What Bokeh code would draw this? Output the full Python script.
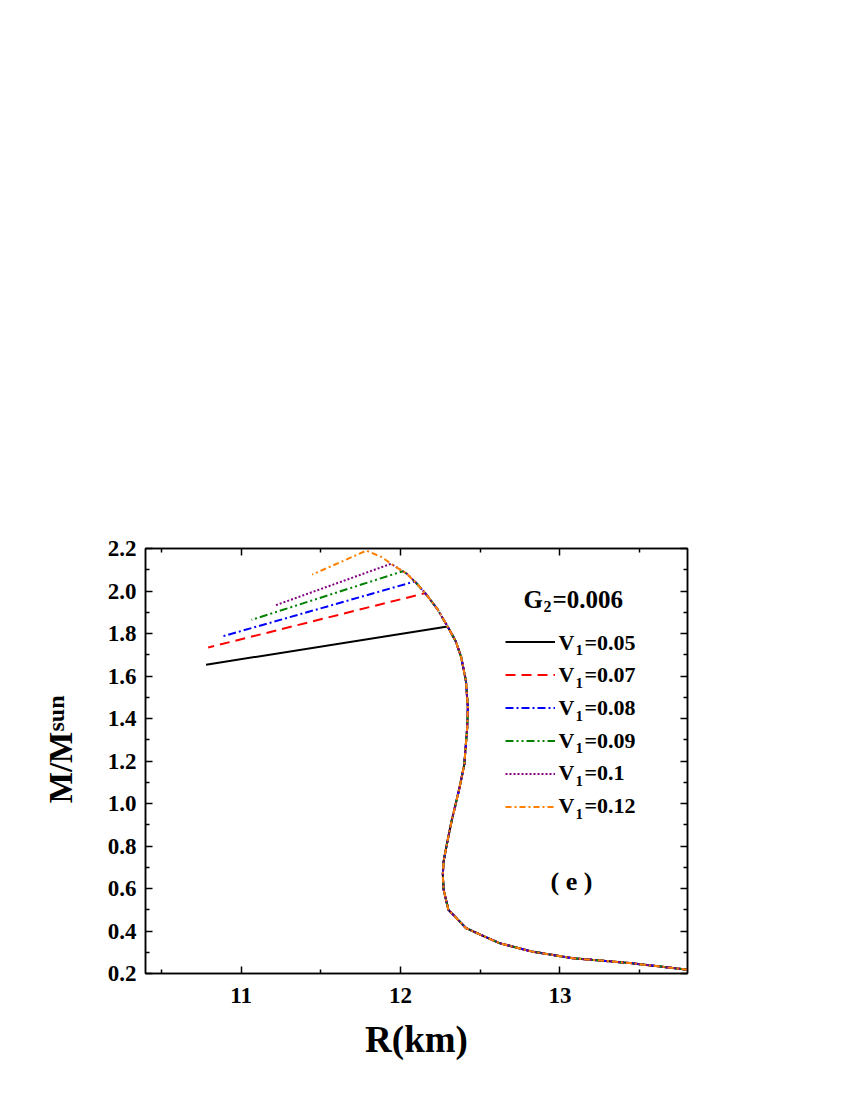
from bokeh.plotting import figure
from bokeh.models import (Range1d, LinearAxis, FixedTicker, PrintfTickFormatter, Label,
                          Legend, LegendItem, CustomJSTickFormatter)
from bokeh.core.properties import value
from bokeh.embed import file_html
from bokeh.resources import INLINE
import math

# ---------------- data ----------------
# stable branch shared by all curves (R in km, M in M_sun), low mass -> maximum
branch_R = [13.80, 13.44, 13.08, 12.82, 12.62, 12.50, 12.41, 12.34, 12.30, 12.27,
            12.265, 12.27, 12.29, 12.32, 12.365, 12.40, 12.418, 12.422, 12.41, 12.38,
            12.345, 12.295, 12.23, 12.167, 12.104, 12.04, 11.957, 11.88, 11.786]
branch_M = [0.218, 0.249, 0.272, 0.304, 0.343, 0.383, 0.414, 0.469, 0.500, 0.595,
            0.666, 0.728, 0.807, 0.917, 1.058, 1.184, 1.357, 1.451, 1.577, 1.690,
            1.765, 1.833, 1.916, 1.978, 2.033, 2.081, 2.120, 2.160, 2.190]

labels = ["0.05", "0.07", "0.08", "0.09", "0.1", "0.12"]
# point where each curve leaves the shared branch
top_R = [12.295, 12.155, 12.09, 12.014, 11.94, 11.786]
top_M = [1.833, 1.990, 2.045, 2.093, 2.128, 2.190]
# end point of each curve's upper (unstable) part
end_R = [10.78, 10.793, 10.876, 11.065, 11.209, 11.445]
end_M = [1.653, 1.734, 1.785, 1.864, 1.931, 2.077]

colors = ["#000000", "#FF0000", "#0000FF", "#008000", "#800080", "#FF8000"]
dashes = ["solid", "10 6", "8 3 2 3", "8 3 2 3 2 3", "2 2", "6 3 2 3"]

x_major = [11, 12, 13]
x_minor = [10.5, 11.5, 12.5, 13.5]
y_major = [0.2, 0.4, 0.6, 0.8, 1.0, 1.2, 1.4, 1.6, 1.8, 2.0, 2.2]
y_minor = [0.3, 0.5, 0.7, 0.9, 1.1, 1.3, 1.5, 1.7, 1.9, 2.1]

FONT = "Liberation Serif"

# ---------------- figure ----------------
W, H = 840, 1090
FL, FR, FT, FB = 145, 687, 548, 973   # frame edges on the page
p = figure(width=W, height=H, output_backend="svg", toolbar_location=None,
           x_range=Range1d(10.4, 13.8), y_range=Range1d(0.2, 2.2),
           min_border_left=FL, min_border_right=W - FR, min_border_top=FT,
           min_border_bottom=H - FB, x_axis_location=None, y_axis_location=None)
p.xgrid.visible = False
p.ygrid.visible = False
p.outline_line_color = "black"
p.outline_line_width = 1.5
p.background_fill_color = "white"
p.border_fill_color = "white"

blank = CustomJSTickFormatter(code="return ''")


def style_axis(ax, show_labels):
    ax.axis_line_width = 1.5
    ax.major_tick_line_width = 1.5
    ax.minor_tick_line_width = 1.5
    ax.major_tick_in = 7
    ax.major_tick_out = 0
    ax.minor_tick_in = 4
    ax.minor_tick_out = 0
    ax.major_label_text_font = FONT
    ax.major_label_text_font_style = "bold"
    ax.major_label_text_font_size = "23px"
    ax.major_label_text_color = "black"
    if not show_labels:
        ax.formatter = blank


xt = FixedTicker(ticks=x_major, minor_ticks=x_minor)
yt = FixedTicker(ticks=y_major, minor_ticks=y_minor)

xb = LinearAxis(ticker=xt, axis_label="R(km)")
style_axis(xb, True)
xb.major_label_standoff = 14
xb.axis_label_text_font = FONT
xb.axis_label_text_font_style = "bold"
xb.axis_label_text_font_size = "37px"
xb.axis_label_text_color = "black"
xb.axis_label_standoff = 13
p.add_layout(xb, "below")

yl = LinearAxis(ticker=yt, formatter=PrintfTickFormatter(format="%.1f"))
style_axis(yl, True)
yl.major_label_standoff = 9
p.add_layout(yl, "left")

xa = LinearAxis(ticker=xt)
style_axis(xa, False)
p.add_layout(xa, "above")
yr = LinearAxis(ticker=yt)
style_axis(yr, False)
p.add_layout(yr, "right")

# ---------------- curves ----------------
renderers = []
for i in range(len(labels)):
    xs = [r for r, m in zip(branch_R, branch_M) if m < top_M[i]] + [top_R[i], end_R[i]]
    ys = [m for m in branch_M if m < top_M[i]] + [top_M[i], end_M[i]]
    r = p.line(xs, ys, line_color=colors[i], line_width=2, line_dash=dashes[i])
    renderers.append(r)

legend = Legend(items=[LegendItem(label=value(" "), renderers=[r]) for r in renderers],
                location=(360, 150), orientation="vertical", glyph_width=50,
                glyph_height=33, label_height=33, spacing=0, padding=0, margin=0,
                label_standoff=0, label_width=0, border_line_alpha=0,
                background_fill_alpha=0, label_text_font_size="10px")
p.add_layout(legend, "center")

# ---------------- texts ----------------
# convert page pixel positions to data coordinates for annotation placement
def dx(px):
    return 10.4 + (px - FL) * 3.4 / (FR - FL)


def dy(py):
    return 0.2 + (FB - py) * 2.0 / (FB - FT)


def txt(px, py, s, size, angle=0.0, align="left", place="center"):
    lbl = Label(x=dx(px), y=dy(py), text=s, text_font=FONT,
                text_font_style="bold", text_font_size=f"{size}px",
                text_color="black", text_align=align,
                text_baseline="middle", angle=angle)
    p.add_layout(lbl, place)


# G2 = 0.006  (py = vertical centre of the text)
txt(523, 599, "G", 25)
txt(543, 606, "2", 16)
txt(552, 599, "=0.006", 25)

# legend texts
row0 = 641.7
step = 32.66
for i, lab in enumerate(labels):
    c = row0 + i * step
    txt(558, c, "V", 22)
    txt(575, c + 8, "1", 15)
    txt(584, c, "=" + lab, 22)

# panel tag
txt(550, 881, "( e )", 26)

# y axis label (rotated), placed in a side panel so it is not clipped to the frame
txt(60, 767, "M/M", 33, angle=math.pi / 2, align="center", place="above")
txt(55, 731, "sun", 24, angle=math.pi / 2, align="left", place="above")

open("out.html", "w").write(file_html(p, INLINE))
